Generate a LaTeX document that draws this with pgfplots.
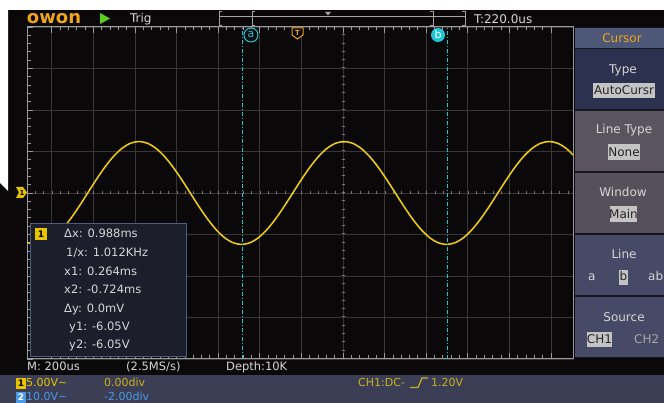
\documentclass[border=0pt]{standalone}
\usepackage{pgfplots}
\pgfplotsset{compat=1.18}
\usepackage{fontspec}
\setmainfont{DejaVu Sans}
\definecolor{scopebg}{HTML}{0B080A}
\definecolor{gridc}{HTML}{363636}
\definecolor{borderc}{HTML}{9A9A9A}
\definecolor{trace}{HTML}{F2D00C}
\definecolor{cyanc}{HTML}{1FC6D4}
\definecolor{orangec}{HTML}{F0A41C}
\definecolor{greenc}{HTML}{5CD01E}
\definecolor{txt}{HTML}{D6D6D6}
\definecolor{panelsep}{HTML}{16161F}
\definecolor{panelhead}{HTML}{4D5778}
\definecolor{paneldark}{HTML}{2D3150}
\definecolor{panelgray}{HTML}{5A5460}
\definecolor{panelblue}{HTML}{464A66}
\definecolor{boxgray}{HTML}{C4C4C4}
\definecolor{infobg}{HTML}{1C1E2C}
\definecolor{infoborder}{HTML}{4C5C84}
\definecolor{bottombg}{HTML}{3B3E55}
\definecolor{ch1y}{HTML}{E8C400}
\definecolor{ch1dim}{HTML}{C8B020}
\definecolor{ch2b}{HTML}{4A9AE8}
\newcommand\fs[1]{\fontsize{#1}{#1}\selectfont}
\begin{document}
\begin{tikzpicture}[x=1pt,y=1pt,every node/.style={inner sep=0pt,outer sep=0pt}]
\useasboundingbox (0,0) rectangle (664,403);
\clip (0,0) rectangle (664,403);
% backgrounds
\fill[scopebg] (0,0) rectangle (664,393);
\fill[white] (0,393) rectangle (664,403);
\fill[white] (0,393) -- (8,393) -- (8,212) -- (0,220) -- cycle;
\fill[bottombg] (0,0) rectangle (664,28);
% axis: data origin (0,0) sits at picture point (343pt,210pt)
\begin{axis}[at={(343pt,210pt)}, anchor=origin,
  width=546pt, height=332pt, scale only axis,
  xmin=-7.596, xmax=5.529, ymin=-4, ymax=4,
  axis background/.style={fill=scopebg},
  axis line style={draw=borderc, line width=1pt},
  xtick={-7,-6,...,5}, ytick={-4,-3,...,4},
  minor x tick num=4, minor y tick num=4,
  xticklabels={}, yticklabels={},
  tick align=inside, xtick pos=both, ytick pos=left,
  major tick length=6pt, minor tick length=3.5pt,
  every tick/.style={draw=borderc, line width=0.8pt},
  grid=major, major grid style={draw=gridc, line width=0.8pt},
  clip=true]
\draw[borderc!80!black, line width=3pt, dash pattern=on 1pt off 7.32pt] (axis cs:-7.4,0) -- (axis cs:5.5,0);
\draw[borderc!80!black, line width=3pt, dash pattern=on 1pt off 7.3pt] (axis cs:0,-3.8) -- (axis cs:0,3.9);
\addplot[trace, line width=1.5pt, smooth, no marks] coordinates {
(-7.780,-1.074) (-7.575,-1.198) (-7.369,-1.24) (-7.164,-1.198) (-6.958,-1.074)
(-6.753,-0.877) (-6.548,-0.62) (-6.342,-0.321) (-6.137,0) (-5.931,0.321)
(-5.726,0.62) (-5.521,0.877) (-5.315,1.074) (-5.110,1.198) (-4.904,1.24)
(-4.699,1.198) (-4.494,1.074) (-4.288,0.877) (-4.083,0.62) (-3.877,0.321)
(-3.672,0) (-3.467,-0.321) (-3.261,-0.62) (-3.056,-0.877) (-2.850,-1.074)
(-2.645,-1.198) (-2.440,-1.24) (-2.234,-1.198) (-2.029,-1.074) (-1.823,-0.877)
(-1.618,-0.62) (-1.413,-0.321) (-1.207,0) (-1.002,0.321) (-0.796,0.62)
(-0.591,0.877) (-0.386,1.074) (-0.180,1.198) (0.025,1.24) (0.231,1.198)
(0.436,1.074) (0.641,0.877) (0.847,0.62) (1.052,0.321) (1.258,0)
(1.463,-0.321) (1.668,-0.62) (1.874,-0.877) (2.079,-1.074) (2.285,-1.198)
(2.490,-1.24) (2.695,-1.198) (2.901,-1.074) (3.106,-0.877) (3.312,-0.62)
(3.517,-0.321) (3.722,0) (3.928,0.321) (4.133,0.62) (4.339,0.877)
(4.544,1.074) (4.749,1.198) (4.955,1.24) (5.160,1.198) (5.366,1.074) (5.571,0.877)};
\addplot[cyanc, line width=0.9pt, dash pattern=on 4pt off 2pt on 1pt off 2pt] coordinates {(-2.41,-4) (-2.41,4)};
\addplot[cyanc, line width=0.9pt, dash pattern=on 4pt off 2pt on 1pt off 2pt] coordinates {(2.50,-4) (2.50,4)};
\end{axis}
% header
\node[anchor=base west, text=orangec] at (27,379) {\fs{18}\bfseries owon};
\fill[greenc] (100,390) -- (110,384.5) -- (100,379) -- cycle;
\node[anchor=base west, text=txt] at (130,380) {\fs{12}Trig};
\begin{scope}[draw=borderc!90!white, line width=1pt]
\draw (219,386) -- (465,386);
\draw (222,391) -- (219,391) -- (219,377) -- (222,377);
\draw (255,391) -- (252,391) -- (252,377) -- (255,377);
\draw (430,391) -- (433,391) -- (433,377) -- (430,377);
\draw (462,391) -- (465,391) -- (465,377) -- (462,377);
\end{scope}
\fill[borderc!90!white] (325,391) -- (331,391) -- (328,387.5) -- cycle;
\node[anchor=base west, text=txt] at (474,379) {\fs{12}T:220.0us};
% markers
\filldraw[fill=black, draw=orangec, line width=1pt] (292,375) -- (303,375) -- (303,368) -- (297.5,364) -- (292,368) -- cycle;
\node[text=orangec] at (297.5,370.5) {\fs{7}\bfseries T};
\filldraw[fill=scopebg, draw=cyanc, line width=1pt] (251,368) circle (7);
\node[text=cyanc] at (251,368.5) {\fs{11}a};
\fill[cyanc] (438,368) circle (7);
\node[text=white] at (438,368.5) {\fs{11}b};
\fill[ch1y] (16,216) -- (23,216) -- (27,210.5) -- (23,205) -- (16,205) -- (19,210.5) -- cycle;
\node[text=black] at (22,210.5) {\fs{7}\bfseries 1};
% info box
\filldraw[fill=infobg, draw=infoborder, line width=1pt] (30,46) rectangle (186,179);
\fill[ch1y] (35,163) rectangle (47,175);
\node[text=black] at (41,169) {\fs{9}\bfseries 1};
\begin{scope}[every node/.style={anchor=base west, text=txt, inner sep=0pt}]
\node at (64,165) {\fs{11.5}Δx: 0.988ms};
\node at (66,146) {\fs{11.5}1/x: 1.012KHz};
\node at (64,127) {\fs{11.5}x1: 0.264ms};
\node at (64,109) {\fs{11.5}x2: -0.724ms};
\node at (64,90) {\fs{11.5}Δy: 0.0mV};
\node at (69,72) {\fs{11.5}y1: -6.05V};
\node at (69,54) {\fs{11.5}y2: -6.05V};
\end{scope}
% right panel
\fill[panelsep] (575,45) rectangle (664,376);
\fill[panelhead] (575,355) rectangle (664,375);
\fill[paneldark] (575,294) rectangle (664,354);
\fill[panelgray] (575,232) rectangle (664,292);
\fill[panelgray!95!black] (575,170) rectangle (664,230);
\fill[panelblue] (575,108) rectangle (664,168);
\fill[panelblue] (575,46) rectangle (664,106);
\begin{scope}[every node/.style={text=txt, inner sep=0pt}]
\node[anchor=base, text=orangec] at (622,360) {\fs{12}Cursor};
\node[anchor=base] at (623,329) {\fs{12}Type};
\fill[boxgray] (593,305) rectangle (655,320);
\node[anchor=base, text=black!85] at (624,308) {\fs{12}AutoCursr};
\node[anchor=base] at (624,269) {\fs{12}Line Type};
\fill[boxgray] (608,243) rectangle (640,259);
\node[anchor=base, text=black!85] at (624,246.5) {\fs{12}None};
\node[anchor=base] at (623,206) {\fs{12}Window};
\fill[boxgray] (610,181) rectangle (637,197);
\node[anchor=base, text=black!85] at (623.5,184.5) {\fs{12}Main};
\node[anchor=base] at (624,144) {\fs{12}Line};
\node[anchor=base west] at (588,122) {\fs{12}a};
\fill[boxgray] (619,118) rectangle (628,133);
\node[anchor=base, text=black!85] at (623.5,122) {\fs{12}b};
\node[anchor=base west] at (648,122) {\fs{12}ab};
\node[anchor=base] at (624,81) {\fs{12}Source};
\fill[boxgray] (587,56) rectangle (612,71);
\node[anchor=base, text=black!85] at (599.5,59) {\fs{12}CH1};
\node[anchor=base west, text=black!35] at (634,59) {\fs{12}CH2};
\end{scope}
% bottom
\begin{scope}[every node/.style={anchor=base west, inner sep=0pt}]
\node[text=txt] at (27,32) {\fs{11.5}M: 200us};
\node[text=txt] at (126,32) {\fs{11.5}(2.5MS/s)};
\node[text=txt] at (226,32) {\fs{11.5}Depth:10K};
\fill[ch1y] (16,14) rectangle (26,25);
\node[text=black, anchor=center] at (21,19.5) {\fs{9}\bfseries 1};
\node[text=ch1y] at (26,16) {\fs{11}5.00V\char"007E};
\node[text=ch1dim] at (104,16) {\fs{11}0.00div};
\fill[ch2b] (16,0) rectangle (26,11);
\node[text=white, anchor=center] at (21,5.5) {\fs{9}\bfseries 2};
\node[text=ch2b] at (26,2) {\fs{11}10.0V\char"007E};
\node[text=ch2b] at (104,2) {\fs{11}-2.00div};
\node[text=ch1dim] at (358,16) {\fs{11}CH1:DC-};
\draw[ch1dim, line width=1.2pt] (410,15.5) -- (418,15.5) -- (422,25) -- (428,25);
\node[text=ch1dim] at (431,16) {\fs{11}1.20V};
\end{scope}
\end{tikzpicture}
\end{document}
